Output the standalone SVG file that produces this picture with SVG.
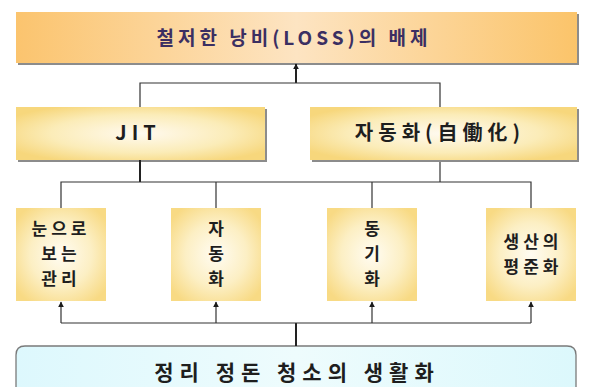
<svg xmlns="http://www.w3.org/2000/svg" width="589" height="387" viewBox="0 0 589 387">
<defs>
<linearGradient id="gTop" x1="0" y1="0" x2="1" y2="0">
<stop offset="0" stop-color="#fbc46e"/>
<stop offset="0.5" stop-color="#fde4c2"/>
<stop offset="1" stop-color="#fbc46a"/>
</linearGradient>
<radialGradient id="gMid" cx="0.5" cy="0.5" r="0.6">
<stop offset="0" stop-color="#fffaf0"/>
<stop offset="0.6" stop-color="#fbecb8"/>
<stop offset="1" stop-color="#f7d77c"/>
</radialGradient>
<radialGradient id="gBox" cx="0.5" cy="0.5" r="0.62">
<stop offset="0" stop-color="#fffcf2"/>
<stop offset="0.55" stop-color="#fcefc4"/>
<stop offset="1" stop-color="#f8da84"/>
</radialGradient>
<linearGradient id="gBot" x1="0" y1="0" x2="1" y2="0">
<stop offset="0" stop-color="#ddf8fd"/>
<stop offset="0.5" stop-color="#eefcfd"/>
<stop offset="1" stop-color="#dcf8fc"/>
</linearGradient>
<marker id="arr" viewBox="0 0 10 10" refX="9" refY="5" markerWidth="6" markerHeight="6" orient="auto" markerUnits="userSpaceOnUse">
<path d="M0,0 L10,5 L0,10 z" fill="#1a1a1a"/>
</marker>
</defs>
<style>
.shadow{fill:#8c8c8c}
.t{font-family:"Noto Sans CJK KR","Noto Sans",sans-serif;fill:#1e1e1e;text-anchor:middle;font-weight:700}
.title{font-size:19px;letter-spacing:4px;fill:#3b2f62}
.mid{font-size:20px;letter-spacing:5px}
.sm{font-size:17px;letter-spacing:4px}
.bot{font-size:21px;letter-spacing:6px}
.c{fill:none;stroke:#333;stroke-width:1.2}
.ct{fill:none;stroke:#222;stroke-width:2}
</style>
<rect width="589" height="387" fill="#fff"/>

<g id="top">
<rect class="shadow" x="18" y="14" width="561" height="51"/>
<rect x="16" y="12" width="561" height="51" fill="url(#gTop)"/>
<text class="t title" x="294" y="44.5">철저한 낭비(LOSS)의 배제</text>
</g>

<g id="jit">
<rect class="shadow" x="18" y="109" width="249" height="53"/>
<rect x="16" y="107" width="249" height="53" fill="url(#gMid)"/>
<text class="t mid" x="138" y="140">JIT</text>
</g>

<g id="jidoka">
<rect class="shadow" x="312" y="109" width="267" height="53"/>
<rect x="310" y="107" width="267" height="53" fill="url(#gMid)"/>
<text class="t mid" x="440" y="140">자동화(自働化)</text>
</g>

<g id="box1">
<rect x="16" y="208" width="90" height="93" fill="url(#gBox)"/>
<text class="t sm" x="61" y="235"><tspan x="61">눈으로</tspan><tspan x="61" dy="25">보는</tspan><tspan x="61" dy="25">관리</tspan></text>
</g>

<g id="box2">
<rect x="171" y="208" width="90" height="93" fill="url(#gBox)"/>
<text class="t sm" x="218" y="235"><tspan x="218">자</tspan><tspan x="218" dy="25">동</tspan><tspan x="218" dy="25">화</tspan></text>
</g>

<g id="box3">
<rect x="327" y="208" width="90" height="93" fill="url(#gBox)"/>
<text class="t sm" x="374" y="235"><tspan x="374">동</tspan><tspan x="374" dy="25">기</tspan><tspan x="374" dy="25">화</tspan></text>
</g>

<g id="box4">
<rect x="486" y="208" width="90" height="93" fill="url(#gBox)"/>
<text class="t sm" x="533" y="248"><tspan x="533">생산의</tspan><tspan x="533" dy="25">평준화</tspan></text>
</g>

<g id="base">
<path d="M16,400 L16,355 Q16,346 25,346 L567,346 Q576,346 576,355 L576,400" fill="url(#gBot)" stroke="#7a7a7a" stroke-width="1.3"/>
<text class="t bot" x="297" y="380">정리 정돈 청소의 생활화</text>
</g>

<g id="connectors">
<path class="ct" d="M296,83 L296,64" marker-end="url(#arr)"/>
<path class="c" d="M140,107 L140,83 L440,83 L440,107"/>
<path class="ct" d="M140,160 L140,182"/>
<path class="c" d="M440,162 L440,182"/>
<path class="c" d="M61,208 L61,182 L531,182 L531,208"/>
<path class="c" d="M216,182 L216,208"/>
<path class="c" d="M372,182 L372,208"/>
<path class="ct" d="M296,346 L296,323"/>
<path class="c" d="M61,323 L531,323"/>
<path class="c" d="M61,323 L61,302" marker-end="url(#arr)"/>
<path class="c" d="M216,323 L216,302" marker-end="url(#arr)"/>
<path class="c" d="M372,323 L372,302" marker-end="url(#arr)"/>
<path class="c" d="M531,323 L531,302" marker-end="url(#arr)"/>
</g>
</svg>
